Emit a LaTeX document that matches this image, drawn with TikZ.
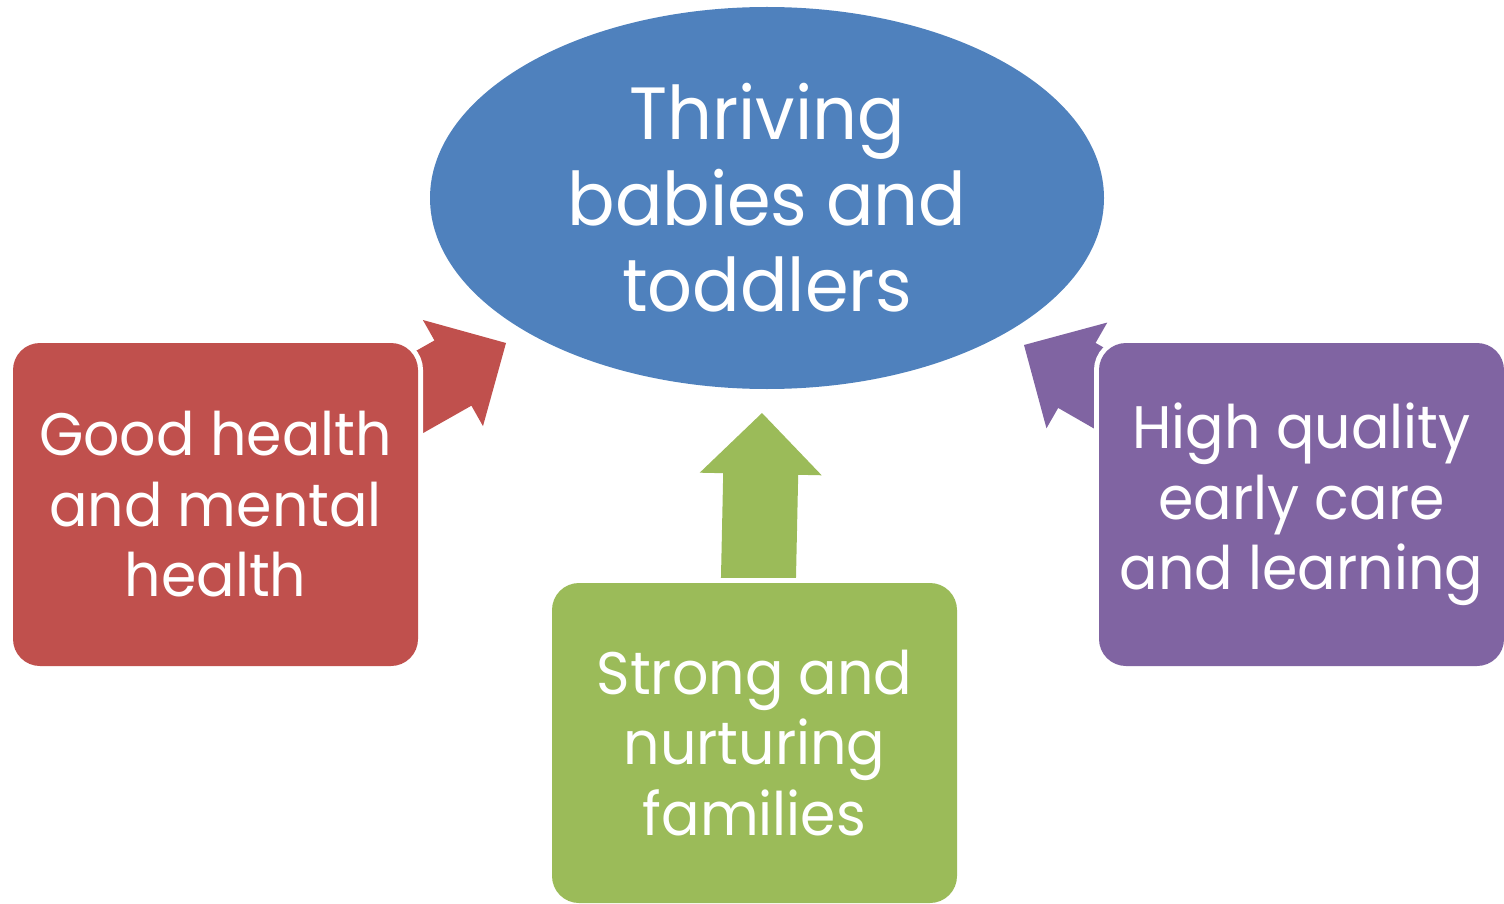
\documentclass[tikz,border=0pt]{standalone}
\usepackage{fontspec}
\setmainfont{Poppins}[FakeStretch=0.95]
\usetikzlibrary{calc,shapes.geometric}

\definecolor{ovalblue}{HTML}{4F81BD}
\definecolor{healthred}{HTML}{C0504D}
\definecolor{familygreen}{HTML}{9BBB59}
\definecolor{carepurple}{HTML}{8064A2}

% Block arrow: #1 colour, #2 tail coordinate, #3 tip coordinate
\newcommand\blockarrow[3]{%
  \coordinate (#3n) at ($(#3)!61pt!(#2)$);
  \fill[#1] (#3)
    -- ($(#3n)!61pt!90:(#3)$) -- ($(#3n)!37.5pt!90:(#3)$)
    -- ($(#2)!37.5pt!90:(#3)$) -- ($(#2)!37.5pt!-90:(#3)$)
    -- ($(#3n)!37.5pt!-90:(#3)$) -- ($(#3n)!61pt!-90:(#3)$) -- cycle;}

\tikzset{
  goalshape/.style={ellipse, fill=ovalblue, minimum width=674pt, minimum height=382pt,
    inner sep=0pt, text=white, align=center, font=\fontsize{74}{86}\selectfont},
  pillar/.style={rectangle, rounded corners=27pt, minimum width=405pt, inner sep=0pt,
    text=white, align=center, font=\fontsize{60}{70.5}\selectfont,
    preaction={draw=white, line width=10pt}}
}

\begin{document}
\begin{tikzpicture}[x=1pt,y=-1pt]
  \useasboundingbox (0,0) rectangle (1504,904);

  \node[goalshape] (goal) at (767,198) {Thriving\\babies and\\toddlers};

  % arrow ends
  \coordinate (redtail) at (393,407);
  \coordinate (redtip) at (506,343);
  \coordinate (greentail) at (758,600);
  \coordinate (greentip) at (762,413);
  \coordinate (purpletail) at (1137,410);
  \coordinate (purpletip) at (1024,345);

  \blockarrow{healthred}{redtail}{redtip}
  \blockarrow{familygreen}{greentail}{greentip}
  \blockarrow{carepurple}{purpletail}{purpletip}

  \node[pillar, fill=healthred, minimum height=323pt] (health) at (215.5,504.5)
    {Good health\\and mental\\health};
  \node[pillar, fill=familygreen, minimum height=320pt] (family) at (754.5,743)
    {Strong and\\nurturing\\families};
  \node[pillar, fill=carepurple, minimum height=323pt] (care) at (1301.5,504.5)
    {High quality\\early care\\and learning};
\end{tikzpicture}
\end{document}
